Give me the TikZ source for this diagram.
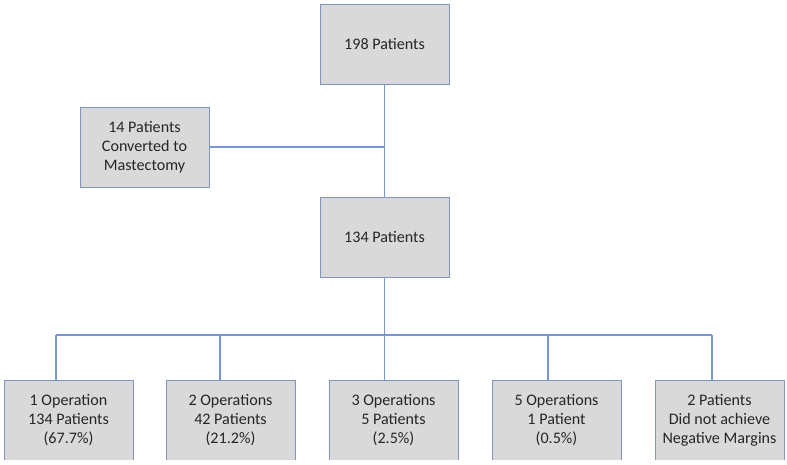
\documentclass[tikz,border=0pt]{standalone}
\usepackage{fontspec}
\setmainfont{Carlito}
\definecolor{boxfill}{RGB}{217,217,217}
\definecolor{boxline}{RGB}{128,148,192}
\definecolor{wireblue}{RGB}{118,150,216}
\definecolor{ink}{RGB}{38,38,38}

\begin{document}
\begin{tikzpicture}[x=1pt,y=-1pt,
  box/.style={draw=boxline,fill=boxfill,line width=0.9pt,minimum width=129pt,
    minimum height=80pt,inner sep=0pt,align=center,text=ink,
    font=\fontsize{16.1}{19}\selectfont},
  wire/.style={draw=wireblue,line width=1.6pt}]
 \useasboundingbox (0,0) rectangle (787,464);
 \begin{scope}
  \clip (0,0) rectangle (787,459.5);
  % upper part
  \node[box] (total) at (384.5,44) {198 Patients};
  \node[box] (mast) at (144.5,147) {14 Patients\\Converted to\\Mastectomy};
  \node[box] (remain) at (384.5,237) {134 Patients};
  % outcomes
  \node[box] (op1) at (68.5,420) {1 Operation\\134 Patients\\(67.7\%)};
  \node[box] (op2) at (230.5,420) {2 Operations\\42 Patients\\(21.2\%)};
  \node[box] (op3) at (393.5,420) {3 Operations\\5 Patients\\(2.5\%)};
  \node[box] (op5) at (556.5,420) {5 Operations\\1 Patient\\(0.5\%)};
  \node[box] (fail) at (719.5,420) {2 Patients\\Did not achieve\\Negative Margins};
  % bus
  \coordinate (t1) at (56,335);
  \coordinate (t2) at (220,335);
  \coordinate (t3) at (384.5,335);
  \coordinate (t4) at (548,335);
  \coordinate (t5) at (712,335);
  \draw[wire] (total.south) -- (remain.north);
  \draw[wire] (mast.east) -- (mast.east -| total);
  \draw[wire] (remain.south) -- (t3);
  \draw[wire] (t1) -- (t5);
  \draw[wire] (t1) -- (t1 |- op1.north);
  \draw[wire] (t2) -- (t2 |- op2.north);
  \draw[wire] (t3) -- (t3 |- op3.north);
  \draw[wire] (t4) -- (t4 |- op5.north);
  \draw[wire] (t5) -- (t5 |- fail.north);
 \end{scope}
\end{tikzpicture}
\end{document}
